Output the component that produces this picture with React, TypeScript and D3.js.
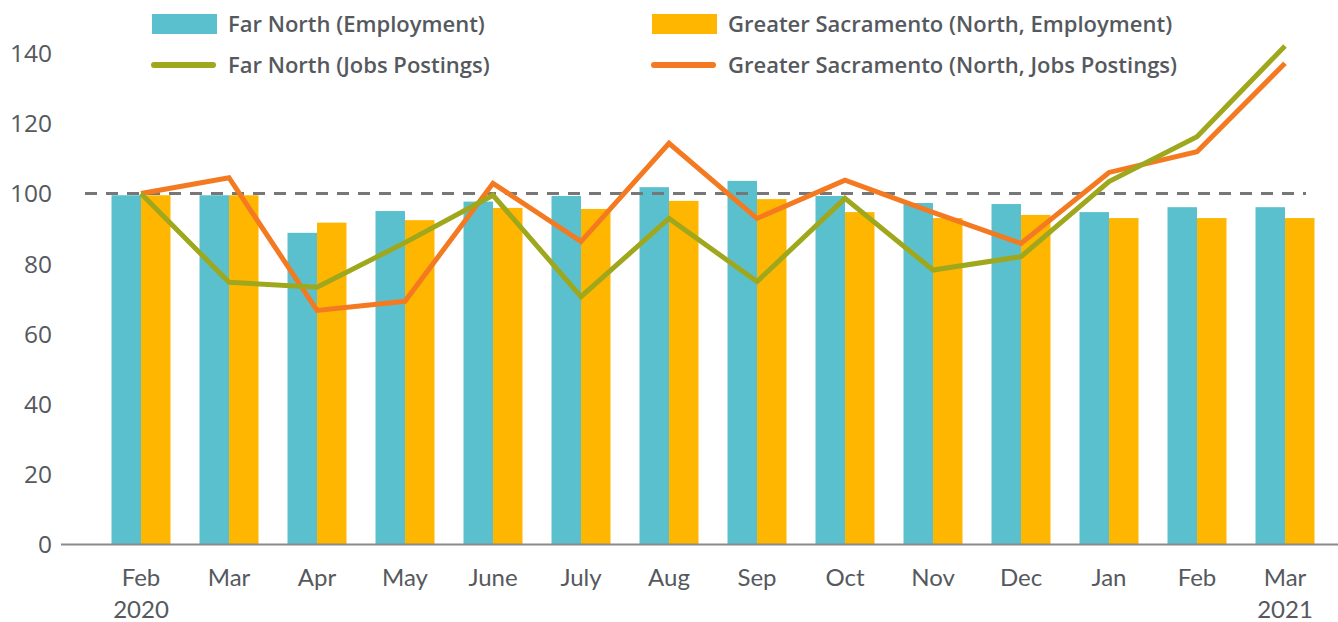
import React from "react";
import * as d3 from "d3";

const months = ["Feb", "Mar", "Apr", "May", "June", "July", "Aug", "Sep", "Oct", "Nov", "Dec", "Jan", "Feb", "Mar"];
const years = ["2020", "", "", "", "", "", "", "", "", "", "", "", "", "2021"];
const farNorthEmployment = [99.5, 99.5, 88.8, 95.0, 97.7, 99.3, 101.8, 103.6, 99.3, 97.3, 97.0, 94.7, 96.1, 96.1];
const greaterSacEmployment = [99.5, 99.5, 91.7, 92.4, 95.9, 95.6, 97.9, 98.4, 94.7, 93.0, 93.9, 93.0, 93.0, 93.0];
const farNorthPostings = [100, 74.7, 73.3, 86, 99.5, 70.6, 92.9, 74.9, 98.6, 78.2, 82, 103.4, 116.2, 142];
const greaterSacPostings = [100, 104.5, 66.7, 69.3, 102.9, 86.3, 114.3, 92.9, 103.8, 94.6, 85.8, 106, 111.9, 137.1];
const yTicks = [0, 20, 40, 60, 80, 100, 120, 140];
const referenceValue = 100;

const legendItems = [
  { label: "Far North (Employment)", type: "bar", color: "#5bc0ce" },
  { label: "Greater Sacramento (North, Employment)", type: "bar", color: "#ffb600" },
  { label: "Far North (Jobs Postings)", type: "line", color: "#9fa81c" },
  { label: "Greater Sacramento (North, Jobs Postings)", type: "line", color: "#f47a22" },
];

const W = 1338;
const H = 622;
const TEXT = "#55595e";
const FONT = "Lato, 'Open Sans', sans-serif";
const FONT2 = "'Open Sans', Lato, sans-serif";

export default function App() {
  const idx = months.map((_, i) => i);
  const x = d3.scaleBand<number>().domain(idx).range([97, 1329]).padding(0);
  const y = d3.scaleLinear().domain([0, 150]).range([544.5, 18]);
  const barW = 29.5;
  const cx = (i: number) => (x(i) as number) + x.bandwidth() / 2;

  const line = d3
    .line<number>()
    .x((_, i) => cx(i))
    .y((d) => y(d));

  return (
    <div style={{ position: "absolute", left: 0, top: 0 }}>
      <svg width={W} height={H} style={{ display: "block", fontFamily: FONT }}>
        <rect width={W} height={H} fill="#fff" />
        {/* y tick labels */}
        {yTicks.map((t) => (
          <text key={t} x={52} y={y(t)} dy="0.36em" textAnchor="end" fontSize={24.5} fill={TEXT} fontFamily={FONT2}>
            {t}
          </text>
        ))}
        {/* bars */}
        {farNorthEmployment.map((v, i) => (
          <rect key={"a" + i} x={cx(i) - barW} y={y(v)} width={barW} height={y(0) - y(v)} fill="#5bc0ce" />
        ))}
        {greaterSacEmployment.map((v, i) => (
          <rect key={"b" + i} x={cx(i)} y={y(v)} width={barW} height={y(0) - y(v)} fill="#ffb600" />
        ))}
        {/* axis line */}
        <line x1={61} x2={W} y1={y(0)} y2={y(0)} stroke="#8a8a8a" strokeWidth={2} />
        {/* reference dashed line */}
        <line
          x1={85}
          x2={1306}
          y1={y(referenceValue)}
          y2={y(referenceValue)}
          stroke="#777"
          strokeWidth={3}
          strokeDasharray="12 9"
        />
        {/* lines */}
        <path d={line(greaterSacPostings) || ""} fill="none" stroke="#f47a22" strokeWidth={5} />
        <path d={line(farNorthPostings) || ""} fill="none" stroke="#9fa81c" strokeWidth={5} />
        {/* x labels */}
        {months.map((m, i) => (
          <g key={"x" + i}>
            <text x={cx(i)} y={586} textAnchor="middle" fontSize={24} fill={TEXT}>
              {m}
            </text>
            {years[i] && (
              <text x={cx(i)} y={618} textAnchor="middle" fontSize={24} fill={TEXT}>
                {years[i]}
              </text>
            )}
          </g>
        ))}
        {/* legend */}
        {legendItems.map((it, k) => {
          const col = k % 2;
          const row = Math.floor(k / 2);
          const lx = col === 0 ? 152 : 652;
          const cy = row === 0 ? 24 : 65;
          return (
            <g key={"l" + k}>
              {it.type === "bar" ? (
                <rect x={lx} y={cy - 10} width={65} height={20} fill={it.color} />
              ) : (
                <line x1={lx + 2} x2={lx + 61} y1={cy} y2={cy} stroke={it.color} strokeWidth={6} strokeLinecap="round" />
              )}
              <text x={lx + 76} y={cy} dy="0.36em" fontSize={22} fontWeight={600} fill={TEXT} fontFamily={FONT2}>
                {it.label}
              </text>
            </g>
          );
        })}
      </svg>
    </div>
  );
}
